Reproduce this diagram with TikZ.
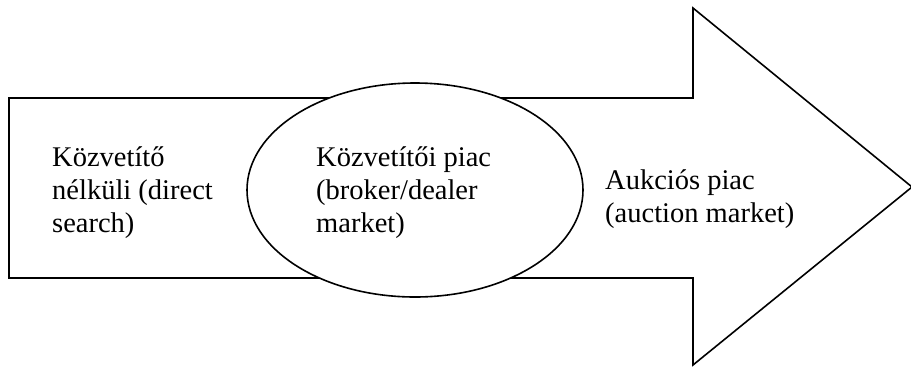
\documentclass[tikz,border=0pt]{standalone}
\usepackage{fontspec}
\setmainfont{Liberation Serif}
\usetikzlibrary{shapes.geometric}
\begin{document}
\begin{tikzpicture}[x=1pt,y=-1pt,
  outline/.style={draw=black,line width=1.6pt,line join=miter},
  label/.style={font=\fontsize{28.5}{33}\selectfont,align=left,inner sep=0pt,anchor=north west}]
\useasboundingbox (0,0) rectangle (911,368);
\clip (0,0) rectangle (911,368);
% big arrow
\draw[outline,fill=white] (9,98) -- (693,98) -- (693,8) -- (912,187) -- (693,365) -- (693,278) -- (9,278) -- cycle;
% ellipse
\node[ellipse,outline,fill=white,minimum width=336pt,minimum height=214pt,inner sep=0pt] (mid) at (415,190) {};
% texts
\node[label] (left) at (52,146) {Közvetítő\\nélküli (direct\\search)};
\node[label] (midtext) at (316,146) {Közvetítői piac\\(broker/dealer\\market)};
\node[label] (right) at (605,169) {Aukciós piac\\(auction market)};
\end{tikzpicture}
\end{document}
